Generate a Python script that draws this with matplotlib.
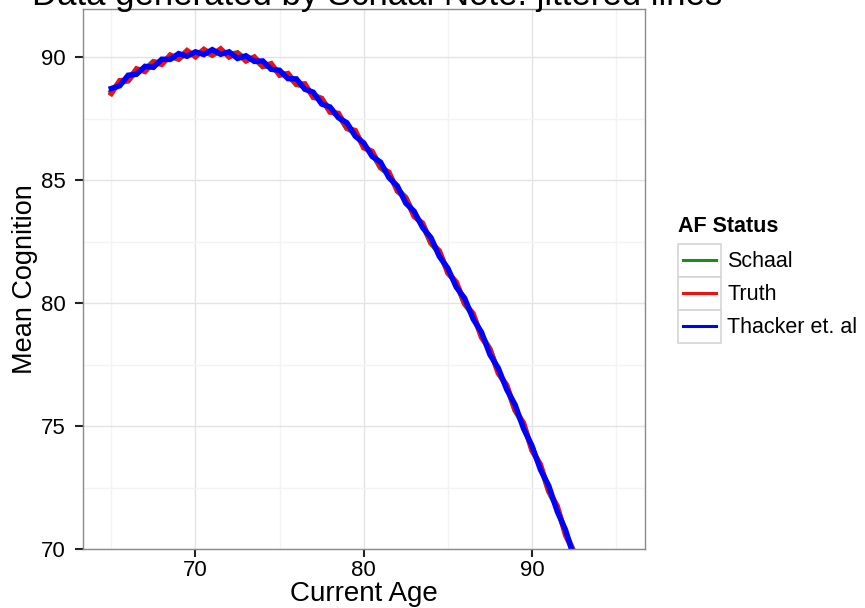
import numpy as np
import matplotlib
matplotlib.use("Agg")
import matplotlib.pyplot as plt
from matplotlib.legend_handler import HandlerBase
from matplotlib.lines import Line2D
from matplotlib.patches import Rectangle
from matplotlib.ticker import MultipleLocator

plt.rcParams['font.family'] = ['Liberation Sans', 'DejaVu Sans']

# ages 65 .. 95 in half-year steps
age = np.arange(65, 95.5, 0.5)

schaal = [88.60, 88.97, 89.03, 89.44, 89.50, 89.81, 89.75, 90.01, 89.91, 90.18,
          90.09, 90.24, 90.07, 90.25, 90.09, 90.17, 89.89, 89.93, 89.61, 89.65,
          89.34, 89.26, 88.88, 88.83, 88.45, 88.32, 87.81, 87.64, 87.10, 86.93,
          86.39, 86.10, 85.50, 85.24, 84.64, 84.29, 83.57, 83.18, 82.43, 82.04,
          81.30, 80.79, 79.97, 79.50, 78.70, 78.14, 77.20, 76.60, 75.64, 75.05,
          74.09, 73.38, 72.35, 71.68, 70.66, 69.89, 68.76, 67.95, 66.78, 65.98,
          64.82]

truth = [88.52, 89.04, 89.05, 89.52, 89.41, 89.79, 89.70, 90.08, 89.93, 90.26,
         90.01, 90.31, 90.09, 90.33, 90.00, 90.15, 89.84, 90.00, 89.63, 89.73,
         89.26, 89.33, 88.90, 88.91, 88.36, 88.30, 87.76, 87.71, 87.12, 87.01,
         86.31, 86.17, 85.52, 85.32, 84.55, 84.27, 83.52, 83.25, 82.45, 82.12,
         81.22, 80.86, 79.99, 79.58, 78.61, 78.12, 77.15, 76.67, 75.66, 75.13,
         74.01, 73.45, 72.37, 71.76, 70.57, 69.87, 68.71, 68.02, 66.80, 66.06,
         64.74]

thacker = [88.72, 88.83, 89.26, 89.30, 89.62, 89.58, 89.91, 89.90, 90.14, 90.03,
           90.21, 90.10, 90.30, 90.11, 90.21, 89.94, 90.05, 89.82, 89.84, 89.50,
           89.46, 89.12, 89.11, 88.69, 88.57, 88.09, 87.97, 87.53, 87.33, 86.78,
           86.51, 85.96, 85.73, 85.10, 84.76, 84.06, 83.73, 83.07, 82.66, 81.89,
           81.42, 80.65, 80.20, 79.36, 78.82, 77.91, 77.36, 76.49, 75.87, 74.90,
           74.21, 73.24, 72.58, 71.54, 70.78, 69.66, 68.92, 67.84, 67.01, 65.83,
           64.94]

series = [("Schaal", schaal, "#1f8b1f"),
          ("Truth", truth, "#ee1111"),
          ("Thacker et. al", thacker, "#0000ff")]


class KeyBox(HandlerBase):
    # ggplot-style legend key: grey-framed square with a short line inside
    def create_artists(self, legend, orig_handle, xdescent, ydescent,
                       width, height, fontsize, trans):
        box = Rectangle((-xdescent, -ydescent), width, height,
                        facecolor="white", edgecolor="#d4d4d4",
                        linewidth=1.2, transform=trans)
        y = -ydescent + height / 2
        inset = 0.11 * width
        line = Line2D([-xdescent + inset, -xdescent + width - inset], [y, y],
                      color=orig_handle.get_color(), linewidth=2.2,
                      transform=trans)
        return [box, line]


fig = plt.figure(figsize=(8.65, 6.08), dpi=100)
ax = fig.add_axes([82.7 / 865, 1 - 549.3 / 608, 562 / 865, 540.3 / 608])

for name, vals, col in series:
    ax.plot(age, vals, color=col, linewidth=3.9, label=name,
            solid_joinstyle="miter")

ax.set_xlim(63.3, 96.7)
ax.set_ylim(70, 91.95)
ax.xaxis.set_major_locator(MultipleLocator(10))
ax.xaxis.set_minor_locator(MultipleLocator(5))
ax.yaxis.set_major_locator(MultipleLocator(5))
ax.yaxis.set_minor_locator(MultipleLocator(2.5))

ax.grid(which="major", color="#e3e3e3", linewidth=1.0)
ax.grid(which="minor", color="#f3f3f3", linewidth=1.0)
ax.set_axisbelow(True)

for sp in ax.spines.values():
    sp.set_color("#8a8a8a")
    sp.set_linewidth(1.0)

ax.tick_params(which="major", length=6, width=1.5, color="#222222",
               labelsize=16, labelcolor="black")
ax.tick_params(axis="x", which="major", pad=2)
ax.tick_params(axis="y", which="major", pad=6)
ax.tick_params(which="minor", length=0)

ax.set_xlabel("Current Age", fontsize=20, labelpad=0)
ax.set_ylabel("Mean Cognition", fontsize=19.5, labelpad=2.5)

fig.text(32 / 865, 1 - 5 / 608, "Data generated by Schaal Note: jittered lines",
         fontsize=25, va="baseline", ha="left")

fs = 15.5
fpx = fs * 100 / 72
leg = ax.legend(handler_map={Line2D: KeyBox()},
                loc="upper left", bbox_to_anchor=(678 / 865, 1 - 216 / 608),
                bbox_transform=fig.transFigure, frameon=False,
                fontsize=fs, title="AF Status",
                title_fontproperties={"weight": "bold", "size": fs},
                alignment="left",
                handlelength=43 / fpx,
                handleheight=(33 / fpx - 0.245) / 0.65,
                labelspacing=0, handletextpad=6 / fpx,
                borderpad=0, borderaxespad=0)
leg._legend_box.sep = 5

fig.savefig("out.png", dpi=100)
